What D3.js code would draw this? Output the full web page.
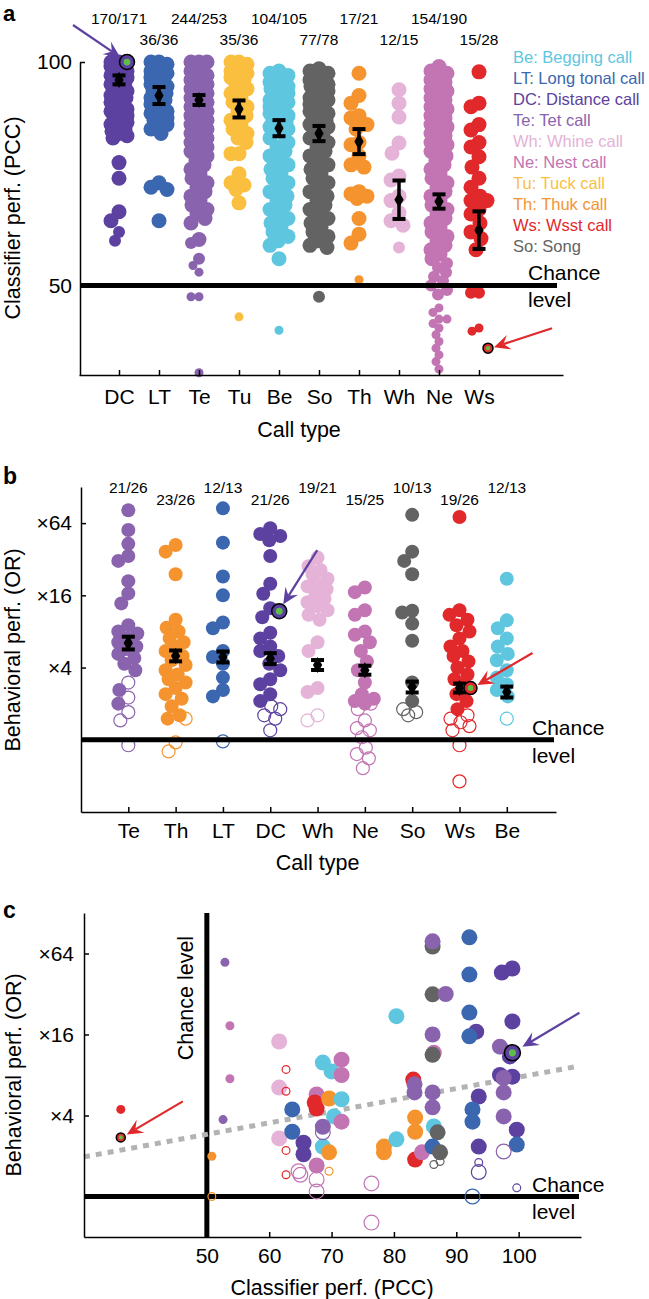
<!DOCTYPE html>
<html><head><meta charset="utf-8">
<script src="https://cdn.jsdelivr.net/npm/d3@7"></script>
<style>body{margin:0;background:#fff} svg{display:block}</style>
</head><body><svg id="chart" width="649" height="1299"></svg>
<script>
// ---------- shared ----------
const typeNames  = ["Be","LT","DC","Te","Wh","Ne","Tu","Th","Ws","So"];
const typeLabels = ["Be: Begging call","LT: Long tonal call","DC: Distance call","Te: Tet call","Wh: Whine call","Ne: Nest call","Tu: Tuck call","Th: Thuk call","Ws: Wsst call","So: Song"];
const typeColors = ["#5fc6e0","#3b66b0","#5c41a0","#8a63ae","#e4b3d7","#c274b3","#fbbf3f","#f5942f","#e1282b","#636363"];

// ---------- panel a data (classifier PCC per call) ----------
const catsA   = ["DC","LT","Te","Tu","Be","So","Th","Wh","Ne","Ws"];
const countsA = ["170/171","36/36","244/253","35/36","104/105","77/78","17/21","12/15","154/190","15/28"];
const meansA  = [96, 92.5, 91.5, 89.5, 85.2, 84, 82.2, 69.2, 68.8, 62.4];
const semA    = [1.0, 1.9, 1.1, 1.9, 1.8, 1.7, 2.8, 4.3, 1.6, 4.2];
const bigA = [
 [100,100,100,99.5,99,99,98.5,98,98,97.5,97,97,96.5,96,96,95.5,95,95,94.5,94,93.5,93,92.5,92,91.5,91,90.5,90,89.5,89,88.5,88,87.5,87,86.5,86,85.5,85,84.5,84,83.5,83,77.5,74,66.5,64.5],
 [100,100,99.5,99,98.5,98,97.5,97,96.5,96,95.5,95,94.5,94,93.5,93,92.5,92,91.5,91,90.5,90,89.5,89,88.5,88,87.5,87,86.5,86,85,84,73,72,71.5,64.5],
 [100,100,100,99,99,98,98,97,97,96,96,95,95,94,94,93,93,92,92,91,91,90,90,89,89,88,88,87,87,86,86,85,85,84,84,83,83,82,82,81,81,80,80,79,78,77,76,75,74,73,72,71,70,69,68,67,66,65,64,60.3],
 [100,100,99.5,99,98.5,98,97.5,97,96.5,96,95,94,93,92,91,90,89,88,87,86,85,84,83,82,79.5,79.5,75,73,72.5,71.5,68.5],
 [98,97.5,97,96.5,96,95.5,95,94.5,94,93.5,93,92.5,92,91.5,91,90.5,90,89.5,89,88.5,88,87.5,87,86.5,86,85.5,85,84.5,84,83,82,81,80,79,78,77,76,75,74,73,72,71,70,69,68,67,66,65,64,63,62,61,60,59,56],
 [98.5,98,97.5,97,96.5,96,95.5,95,94.5,94,93.5,93,92.5,92,91.5,91,90.5,90,89.5,89,88.5,88,87.5,87,86.5,86,85.5,85,84,83,82,81,80,79,78,77,76,75,74,73,72,71,70,69,68,67,66,65,64,63,62,61,60,59,58.5],
 [97.5,92.5,90.8,88,87.5,86,85,82,81.5,79,77,76.5,71,70.5,70,69.5,65,61.5,59.5],
 [93.8,90.8,87.7,81.9,79.6,74.5,73.6,70,69,66.3,64.5,63.5],
 [99,98,97.5,97,96,95.5,95,94,93.5,93,92,91.5,91,90,89.5,89,88,87.5,87,86,85.5,85,84,83.5,83,82,81.5,81,80,79,78,77,76,75,74,73,72,71,70,69,68,67,66,65,64,63,62,61,60,59,58,57,56],
 [97.8,90.8,90,86,84.8,82,81,78.8,76.5,74,72,70,69,69,67,66,64,62,60.5,58]
];
const midA = [
 [62,60],[],[59.5,56],[],[],[47.5],[],[58.5],[55,54,53,52,51,50,49,48],[48.4,48.4]
];
const smallA = [
 [],[],[54.5,53,47.5,47.5,30.5],[43],[40],[],[51.3],[],[45,44,42.5,42.5,41.5,40.5,39,37.5,36,34.5,33,31.3],[40.5,39.8]
];
const hiliteA = [["DC",100],["Ws",36]];

// ---------- panel b data (behavioural OR per bird) ----------
const catsB   = ["Te","Th","LT","DC","Wh","Ne","So","Ws","Be"];
const countsB = ["21/26","23/26","12/13","21/26","19/21","15/25","10/13","19/26","12/13"];
const meansB  = [6.4, 5.0, 4.9, 4.75, 4.2, 3.8, 2.75, 2.7, 2.5];
const errB    = [1.13, 1.11, 1.11, 1.11, 1.10, 1.09, 1.11, 1.09, 1.11];
const filledB = [
 [82,56,43,34,31,21,16.6,13.7,9,8,7.7,7,6.5,6,5.7,5.2,4.8,4.3,3.8,2.6,2.0],
 [42,37,24,10,8.6,8,7,6.5,6,5.5,5,4.6,4.2,3.8,3.5,3.2,3.0,2.7,2.4,2.2,1.9,1.6,1.5],
 [85,44,23,16,9.5,8.5,5.5,4.9,4.3,3.3,2.6,2.3],
 [58,52,50,46,34,20,16.5,12.5,10.5,7.8,7,6,5.5,5,4.3,3.8,3.2,2.9,2.4,2.1],
 [33,28,26,24,22,20,19,18,16,15,14,13,12,11,10,6.5,5.5,2.7,2.5],
 [18.6,17,12,11,8,7.5,6.5,5.5,4.5,3.8,3.0,2.4,2.2,2.1,2.0],
 [75,37,31,24,11.9,11.5,9.3,6.7,3.0,2.1],
 [72,12,11,10,9,8,7,6,5.5,5,4.5,4,3.5,3.2,2.9,2.4,2.1,1.8],
 [22,9.9,8.5,7,6,5.2,4.6,3.8,3.3,2.9,2.6,2.3]
];
const openB = [
 [3.0,2.25,1.7,1.45,0.9],
 [1.5,0.8,0.95],
 [0.97],
 [1.9,1.8,1.6,1.5,1.2],
 [1.6,1.45],
 [2.0,1.8,1.45,1.25,1.2,1.05,0.86,0.76,0.7,0.58],
 [1.8,1.7,1.6],
 [1.6,1.5,1.4,1.3,1.2,0.9,0.45],
 [1.5]
];
const hiliteB = [["DC",11.8],["Ws",2.7]];

// ---------- panel c data: [type, PCC, OR, significant, n-weight] ----------
const pointsC = [
 ["Te",52.9,55,1,1],["Ne",53.7,18.6,1,1],["Ne",53.7,7.5,1,1],["Te",52.6,3.73,1,1],["Th",50.8,1.99,1,1],["Ws",36.2,4.44,1,1],
 ["Wh",61.6,14.2,1,3],["Wh",61.6,6.45,1,3],["Wh",61.6,2.7,1,3],
 ["Be",68.6,9.9,1,3],["Be",70.0,8.5,1,3],["Ne",71.6,10.4,1,3],["Ne",71.6,8.0,1,3],
 ["LT",63.7,4.44,1,3],["LT",63.7,3.03,1,3],
 ["Ne",67.6,5.74,1,3],["Ws",67.3,5.0,1,3],["Ws",67.6,4.5,1,3],
 ["Th",69.6,5.35,1,3],["Be",71.6,5.28,1,3],["Be",70.4,3.94,1,3],["Ne",71.6,3.6,1,3],
 ["Te",68.6,3.3,1,3],["DC",65.5,2.51,1,3],["DC",65.5,2.06,1,3],["Be",68.6,2.35,1,3],["Th",69.6,2.13,1,3],["Ne",67.6,1.7,1,3],
 ["Th",78.4,2.35,1,3],["Th",78.4,2.13,1,3],["Be",80.4,2.66,1,3],
 ["Th",83.4,3.86,1,3],["Th",83.4,3.03,1,3],
 ["Ws",83.1,7.4,1,3],["Te",83.3,6.82,1,3],["Te",83.3,5.94,1,3],["Ws",83.4,1.88,1,3],["Ne",84.5,2.13,1,3],
 ["So",86.2,72,1,3],["Te",86.2,78.8,1,3],["So",86.2,31.8,1,3],["Te",88.3,32,1,3],["Be",80.4,21.9,1,3],
 ["Te",86.2,16,1,3],["Ne",86.4,11.7,1,3],["So",86.2,11.3,1,3],
 ["Te",86.2,5.94,1,3],["Te",86.2,4.6,1,3],["Be",86.4,3.32,1,3],["So",87.0,3.0,1,3],["LT",86.2,2.35,1,3],["So",87.4,2.13,1,3],
 ["LT",92.1,84.4,1,3],["LT",92.1,44.6,1,3],["LT",92.1,23.3,1,3],["DC",93.2,16.8,1,3],["LT",92.1,15.5,1,3],
 ["DC",93.6,5.54,1,3],["LT",92.6,4.44,1,3],["LT",92.6,3.6,1,3],["DC",93.6,2.35,1,3],
 ["DC",97.3,46.2,1,3],["DC",99,49.5,1,3],["DC",99,20,1,3],["Te",97,13,1,3],["DC",98.6,11,1,3],
 ["DC",97,8,1,3],["DC",99,7.78,1,3],["Te",97.6,7.6,1,3],["Te",97.6,5.94,1,3],["Te",97.6,3.94,1,3],
 ["DC",99.7,3.14,1,3],["LT",99.7,2.43,1,3],
 ["Ws",62.7,8.8,0,1],["Ws",62.7,6.06,0,1],["Ws",62.7,2.2,0,1],["Ws",62.7,1.45,0,1],
 ["Ne",64.7,1.54,0,3],["Ne",65.0,1.45,0,3],["Te",68.6,3.0,0,3],["Ne",67.6,1.34,0,3],["Ne",67.6,1.09,0,3],
 ["Th",69.6,1.54,0,1],["Th",50.8,1.0,0,1],["So",86.4,1.73,0,1],["So",87.4,1.82,0,1],
 ["DC",93.6,1.79,0,1],["DC",93.6,1.52,0,3],["LT",92.6,1.0,0,3],["Te",97.6,2.16,0,3],["DC",99.7,1.16,0,1],
 ["Ne",76.4,1.25,0,3],["Ne",76.4,0.64,0,3]
];
const hiliteC = [["DC",99,11.7,3],["Ws",36.2,2.75,1]];
const regressionC = [[30.3,1.97],[109,9.2]]; // [PCC, OR] endpoints of fit
const xTicksC = [50,60,70,80,90,100];
const yTicksOR = [4,16,64];

// ---------- helpers ----------
const FONT = "'Liberation Sans', Arial, Helvetica, sans-serif";
const svg = d3.select("#chart");
svg.append("rect").attr("width",649).attr("height",1299).attr("fill","#fff");
const colorOf = t => typeColors[typeNames.indexOf(t)];
const GREEN = "#5dbd47";

function styleAxis(g, fs){
  g.attr("font-family", FONT).attr("font-size", fs);
  g.select("path.domain").attr("stroke","#000").attr("stroke-width",1.5);
  g.selectAll(".tick line").attr("stroke","#000").attr("stroke-width",1.5);
  g.selectAll(".tick text").attr("fill","#000");
}
function txt(x,y,s,opt={}){
  const t = svg.append("text").attr("x",x).attr("y",y).text(s)
    .attr("font-family",FONT).attr("font-size",opt.fs||21).attr("fill",opt.fill||"#000")
    .attr("text-anchor",opt.anchor||"start");
  if(opt.bold) t.attr("font-weight","bold");
  if(opt.rot) t.attr("transform",`rotate(${opt.rot},${x},${y})`);
  return t;
}
function swarm(items, maxOff, overlap){
  const cand=[0]; for(let k=1;k<=maxOff;k+=1){cand.push(-k,k);}
  const placed=[];
  items.sort((a,b)=>a.y-b.y);
  for(const it of items){
    let best=0,bestS=-Infinity;
    for(const dx of cand){
      let m=Infinity;
      for(const p of placed){
        const dy=p.y-it.y; if(Math.abs(dy)>p.r+it.r) continue;
        const d=Math.hypot(p.dx-dx,dy)-(p.r+it.r)*overlap; if(d<m) m=d;
      }
      if(m>=0){best=dx;bestS=Infinity;break;}
      if(m>bestS){bestS=m;best=dx;}
    }
    it.dx=best; placed.push(it);
  }
  return items;
}
function meanMarker(g,x,y,ylo,yhi){
  g.append("line").attr("x1",x).attr("x2",x).attr("y1",ylo).attr("y2",yhi).attr("stroke","#000").attr("stroke-width",3.5);
  [ylo,yhi].forEach(yy=>g.append("line").attr("x1",x-6.5).attr("x2",x+6.5).attr("y1",yy).attr("y2",yy).attr("stroke","#000").attr("stroke-width",4));
  g.append("path").attr("d",d3.symbol(d3.symbolDiamond).size(75)()).attr("transform",`translate(${x},${y})`).attr("fill","#000");
}
function highlight(g,x,y,r,col){
  g.append("circle").attr("cx",x).attr("cy",y).attr("r",r).attr("fill",col).attr("stroke","#000").attr("stroke-width",1.5);
  g.append("circle").attr("cx",x).attr("cy",y).attr("r",r*0.45).attr("fill",GREEN);
}
function arrow(g,x1,y1,x2,y2,col){
  const a=Math.atan2(y2-y1,x2-x1), L=16, W=7.5;
  const c=Math.cos(a), s=Math.sin(a), nx=-s, ny=c;
  const bx=x2-L*c, by=y2-L*s, mx=x2-L*0.62*c, my=y2-L*0.62*s;
  g.append("line").attr("x1",x1).attr("y1",y1).attr("x2",mx).attr("y2",my).attr("stroke",col).attr("stroke-width",2.2);
  g.append("path").attr("d",`M${x2},${y2}L${bx+nx*W},${by+ny*W}L${mx},${my}L${bx-nx*W},${by-ny*W}Z`).attr("fill",col);
}

// ================= PANEL A =================
const gA = svg.append("g");
const xA = d3.scaleLinear().domain([0,12.1]).range([79,563]);
const yA = d3.scaleLinear().domain([30,100]).range([375,62]);
catsA.forEach((c,i)=>{
  const col = colorOf(c);
  const items = [];
  bigA[i].forEach(v=>items.push({y:yA(v),r:7.5}));
  midA[i].forEach(v=>items.push({y:yA(v),r:6}));
  smallA[i].forEach(v=>items.push({y:yA(v),r:4.5}));
  swarm(items, c==="Be"||c==="So"?9:8, 0.8);
  gA.selectAll(null).data(items).join("circle")
    .attr("cx",d=>xA(i+1)+d.dx).attr("cy",d=>d.y).attr("r",d=>d.r).attr("fill",col);
});
// chance line
gA.append("line").attr("x1",80).attr("x2",557).attr("y1",yA(50)).attr("y2",yA(50)).attr("stroke","#000").attr("stroke-width",5);
// means
catsA.forEach((c,i)=>meanMarker(gA, xA(i+1), yA(meansA[i]), yA(meansA[i]-semA[i]), yA(meansA[i]+semA[i])));
// highlights + arrows
{
  const iDC = catsA.indexOf("DC"), iWs = catsA.indexOf("Ws");
  const hx1 = xA(iDC+1)+8, hy1 = yA(hiliteA[0][1]);
  highlight(gA,hx1,hy1,7.5,colorOf("DC"));
  arrow(gA,hx1-54,hy1-37,hx1-7,hy1-5,"#5c41a0");
  const hx2 = xA(iWs+1)+9, hy2 = yA(hiliteA[1][1]);
  highlight(gA,hx2,hy2,5,colorOf("Ws"));
  arrow(gA,hx2+64,hy2-20,hx2+6,hy2-1,"#e1282b");
}
// axes
gA.append("g").attr("transform","translate(80,0)")
  .call(d3.axisLeft(yA).tickValues([50,100]).tickSize(-5).tickSizeOuter(0).tickPadding(8))
  .call(g=>styleAxis(g,21));
gA.append("g").attr("transform",`translate(0,${yA(30)})`)
  .call(d3.axisBottom(xA).tickValues(d3.range(1,catsA.length+1)).tickFormat(i=>catsA[i-1]).tickSize(-5).tickSizeOuter(0).tickPadding(14))
  .call(g=>styleAxis(g,21));
// counts
catsA.forEach((c,i)=>txt(xA(i+1), i%2===0?24:45, countsA[i], {fs:15.5, anchor:"middle"}));
// legend
typeLabels.forEach((l,i)=>txt(513, 63+21*i, l, {fs:16.5, fill:typeColors[i]}));
txt(528, yA(50)-6, "Chance"); txt(528, yA(50)+21, "level");
txt(xA(5.5), 437, "Call type", {fs:21.5, anchor:"middle"});
txt(20, 218, "Classifier perf. (PCC)", {fs:21.5, anchor:"middle", rot:-90});
txt(3, 21, "a", {fs:22, bold:true});

// ================= PANEL B =================
const gB = svg.append("g");
const xB = d3.scaleLinear().domain([0,10.04]).range([81,556]);
const yB = d3.scaleLog().base(2).domain([0.25,128]).range([812,487]);
catsB.forEach((c,i)=>{
  const col = colorOf(c);
  const items = [];
  filledB[i].forEach(v=>items.push({y:yB(v),r:7,f:1}));
  openB[i].forEach(v=>items.push({y:yB(v),r:6.5,f:0}));
  swarm(items, 10, 0.85);
  gB.selectAll(null).data(items).join("circle")
    .attr("cx",d=>xB(i+1)+d.dx).attr("cy",d=>d.y).attr("r",d=>d.r)
    .attr("fill",d=>d.f?col:"none").attr("stroke",d=>d.f?"none":col).attr("stroke-width",1.2);
});
gB.append("line").attr("x1",81).attr("x2",554).attr("y1",yB(1)).attr("y2",yB(1)).attr("stroke","#000").attr("stroke-width",5);
catsB.forEach((c,i)=>meanMarker(gB, xB(i+1), yB(meansB[i]), yB(meansB[i]/errB[i]), yB(meansB[i]*errB[i])));
{
  const iDC = catsB.indexOf("DC"), iWs = catsB.indexOf("Ws");
  const hx1 = xB(iDC+1)+9, hy1 = yB(hiliteB[0][1]);
  highlight(gB,hx1,hy1,7.5,colorOf("DC"));
  arrow(gB,hx1+38,hy1-61,hx1+4,hy1-7,"#5c41a0");
  const hx2 = xB(iWs+1)+11, hy2 = yB(hiliteB[1][1]);
  highlight(gB,hx2,hy2,6.5,colorOf("Ws"));
  arrow(gB,hx2+62,hy2-35,hx2+7,hy2-3,"#e1282b");
}
gB.append("g").attr("transform","translate(81,0)")
  .call(d3.axisLeft(yB).tickValues(yTicksOR).tickFormat(d=>"\u00d7"+d).tickSize(-5).tickSizeOuter(0).tickPadding(9))
  .call(g=>styleAxis(g,21));
gB.append("g").attr("transform",`translate(0,${yB(0.25)})`)
  .call(d3.axisBottom(xB).tickValues(d3.range(1,catsB.length+1)).tickFormat(i=>catsB[i-1]).tickSize(-5).tickSizeOuter(0).tickPadding(11))
  .call(g=>styleAxis(g,21));
catsB.forEach((c,i)=>txt(xB(i+1), i%2===0?493:505, countsB[i], {fs:15.5, anchor:"middle"}));
txt(532, yB(1)-5, "Chance"); txt(532, yB(1)+23, "level");
txt(xB(5), 870, "Call type", {fs:21.5, anchor:"middle"});
txt(20, 650, "Behavioral perf. (OR)", {fs:21.5, anchor:"middle", rot:-90});
txt(3, 484, "b", {fs:23, bold:true});

// ================= PANEL C =================
const gC = svg.append("g");
const xC = d3.scaleLinear().domain([30.3,110]).range([84,581]);
const yC = d3.scaleLog().base(2).domain([0.5,128]).range([1237,913]);
const rC = d3.scaleSqrt().domain([1,3]).range([4.5,8]);
// chance lines
gC.append("line").attr("x1",84).attr("x2",579).attr("y1",yC(1)).attr("y2",yC(1)).attr("stroke","#000").attr("stroke-width",5);
gC.append("line").attr("x1",xC(50)).attr("x2",xC(50)).attr("y1",913).attr("y2",1237).attr("stroke","#000").attr("stroke-width",5);
// regression
gC.append("line").attr("x1",xC(regressionC[0][0])).attr("y1",yC(regressionC[0][1]))
  .attr("x2",xC(regressionC[1][0])).attr("y2",yC(regressionC[1][1]))
  .attr("stroke","#b3b3b3").attr("stroke-width",5).attr("stroke-dasharray","6 6");
gC.selectAll(null).data(pointsC).join("circle")
  .attr("cx",d=>xC(d[1])).attr("cy",d=>yC(d[2])).attr("r",d=>d[3]?rC(d[4]):rC(d[4])-0.6)
  .attr("fill",d=>d[3]?colorOf(d[0]):"none").attr("stroke",d=>d[3]?"none":colorOf(d[0])).attr("stroke-width",1.2);
{
  const h1 = hiliteC[0], h2 = hiliteC[1];
  const hx1 = xC(h1[1]), hy1 = yC(h1[2]);
  highlight(gC,hx1,hy1,rC(h1[3]),colorOf(h1[0]));
  arrow(gC,hx1+67,hy1-40,hx1+10,hy1-6,"#5c41a0");
  const hx2 = xC(h2[1]), hy2 = yC(h2[2]);
  highlight(gC,hx2,hy2,rC(h2[3]),colorOf(h2[0]));
  arrow(gC,hx2+62,hy2-36,hx2+6,hy2-3,"#e1282b");
}
gC.append("g").attr("transform","translate(84,0)")
  .call(d3.axisLeft(yC).tickValues(yTicksOR).tickFormat(d=>"\u00d7"+d).tickSize(-5).tickSizeOuter(0).tickPadding(10))
  .call(g=>styleAxis(g,21));
gC.append("g").attr("transform",`translate(0,1237)`)
  .call(d3.axisBottom(xC).tickValues(xTicksC).tickSize(-5).tickSizeOuter(0).tickPadding(11))
  .call(g=>styleAxis(g,21));
txt(532, yC(1)-5, "Chance"); txt(532, yC(1)+22, "level");
txt(193, 998, "Chance level", {fs:21.5, anchor:"middle", rot:-90});
txt(332, 1295, "Classifier perf. (PCC)", {fs:21.5, anchor:"middle"});
txt(21, 1075, "Behavioral perf. (OR)", {fs:21.5, anchor:"middle", rot:-90});
txt(3, 918, "c", {fs:23, bold:true});
</script></body></html>
